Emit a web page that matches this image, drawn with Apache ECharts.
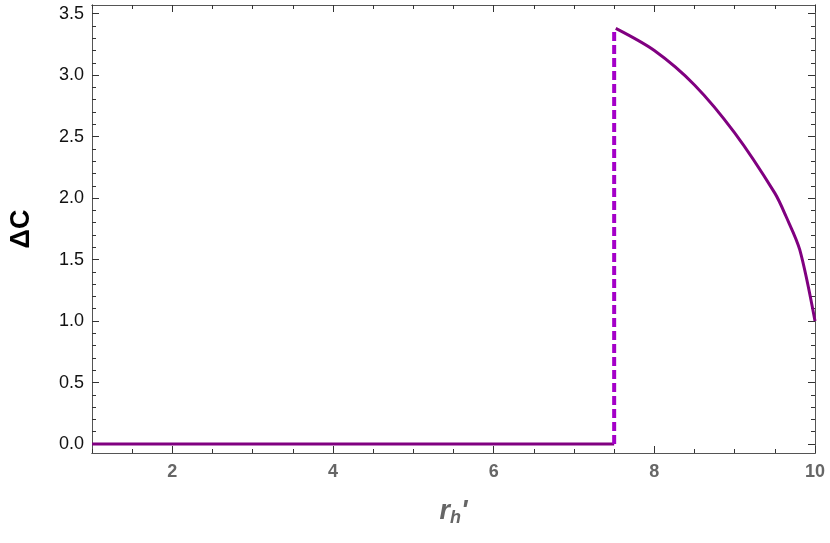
<!DOCTYPE html><html><head><meta charset="utf-8"><script src="https://cdn.jsdelivr.net/npm/echarts@6/dist/echarts.min.js"></script></head><body style="margin:0"><div id="c" style="width:830px;height:543px"></div><script>
const flatX=[1,7.5], flatY=[0,0];
const jumpX=[7.5,7.5], jumpY=[0,3.38];
const curveX=[7.52,8.0,8.5,9.0,9.5,9.64,9.81,10.0];
const curveY=[3.38,3.20,2.92,2.53,2.04,1.85,1.58,1.0];
const xMajor=[2,4,6,8,10];
const yMajor=[0,0.5,1,1.5,2,2.5,3,3.5];
const xMinor=[];for(let v=1;v<=10.001;v+=0.5)xMinor.push(+v.toFixed(1));
const yMinor=[];for(let v=0;v<=3.55;v+=0.1)yMinor.push(+v.toFixed(1));
const zip=(a,b)=>a.map((v,i)=>[v,b[i]]);
const ax='#555';
function xa(pos,vals,len,lab){return {type:'value',min:1,max:10,position:pos,
 axisLine:{show:true,onZero:false,lineStyle:{color:ax}},splitLine:{show:false},
 axisTick:{show:true,inside:true,length:len,customValues:vals,lineStyle:{color:'#333'}},
 axisLabel:{show:lab,customValues:xMajor,color:'#666',fontWeight:'bold',fontSize:18,fontFamily:'Liberation Sans',margin:10},
 name:lab?'{i|r}{s|h}{i|\'}':'',nameLocation:'middle',nameGap:44,
 nameTextStyle:{rich:{i:{fontStyle:'italic',fontWeight:'bold',fontSize:27,color:'#666',fontFamily:'Liberation Sans'},s:{fontStyle:'italic',fontWeight:'bold',fontSize:18,color:'#666',verticalAlign:'bottom',padding:[12,0,0,0],fontFamily:'Liberation Sans'}}}};}
function ya(pos,vals,len,lab){return {type:'value',min:-0.073,max:3.57,position:pos,
 axisLine:{show:true,onZero:false,lineStyle:{color:ax}},splitLine:{show:false},
 axisTick:{show:true,inside:true,length:len,customValues:vals,lineStyle:{color:'#333'}},
 axisLabel:{show:lab,customValues:yMajor,color:'#111',fontSize:18,fontFamily:'Liberation Sans',formatter:v=>v.toFixed(1),margin:8},
 name:lab?'ΔC':'',nameLocation:'middle',nameGap:57,nameTextStyle:{fontWeight:'bold',fontSize:27,color:'#000',fontFamily:'Liberation Sans'}};}
const ch=echarts.init(document.getElementById('c'));
ch.setOption({animation:false,
 grid:{left:92,right:15,top:5,bottom:90},
 xAxis:[xa('bottom',xMajor,7,true),xa('top',xMajor,7,false),xa('bottom',xMinor,4,false),xa('top',xMinor,4,false)],
 yAxis:[ya('left',yMajor,7,true),ya('right',yMajor,7,false),ya('left',yMinor,4,false),ya('right',yMinor,4,false)],
 series:[
  {type:'line',data:zip(flatX,flatY),showSymbol:false,lineStyle:{color:'#800080',width:3}},
  {type:'line',data:zip(jumpX,jumpY),showSymbol:false,lineStyle:{color:'#a400c8',width:4,type:[9,4]}},
  {type:'line',data:zip(curveX,curveY),showSymbol:false,smooth:0.3,lineStyle:{color:'#800080',width:3}}
 ]});
</script></body></html>
